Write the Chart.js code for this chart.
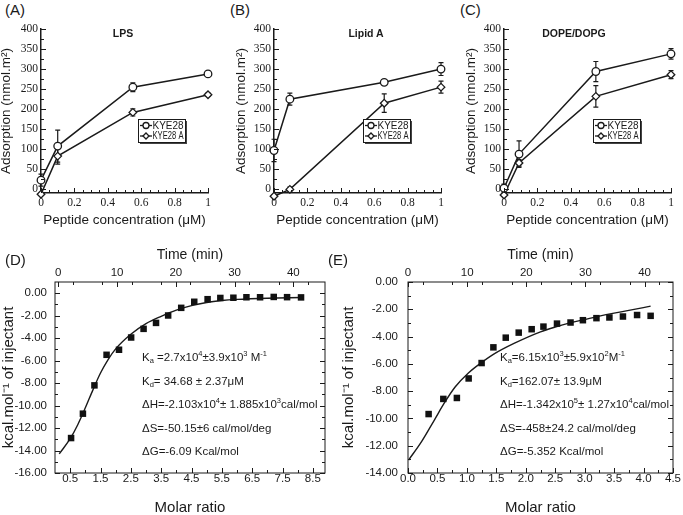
<!DOCTYPE html>
<html>
<head>
<meta charset="utf-8">
<script src="https://cdn.jsdelivr.net/npm/chart.js@4.4.0/dist/chart.umd.min.js"></script>
<style>
body { margin: 0; background: #fff; width: 683px; height: 515px; position: relative; overflow: hidden; font-family: "Liberation Sans", Arial, sans-serif; color: #1a1a1a; }
canvas { position: absolute; }
.plab { position: absolute; font-size: 15px; line-height: 15px; }
.ptitle { position: absolute; font-size: 10.5px; font-weight: bold; transform: translate(-50%, -50%); white-space: nowrap; }
.ann { position: absolute; font-size: 11.5px; line-height: 23.5px; white-space: nowrap; }
.ann sub, .ann sup { font-size: 7.5px; line-height: 0; position: relative; vertical-align: baseline; }
.ann sup { top: -5px; }
.ann sub { top: 2px; }
</style>
</head>
<body>
<canvas id="chartA" width="225" height="215" style="left:0;top:20px"></canvas>
<canvas id="chartB" width="230" height="215" style="left:225px;top:20px"></canvas>
<canvas id="chartC" width="228" height="215" style="left:455px;top:20px"></canvas>
<canvas id="chartD" width="340" height="275" style="left:0;top:240px"></canvas>
<canvas id="chartE" width="343" height="275" style="left:340px;top:240px"></canvas>

<div class="plab" style="left:5px;top:2px">(A)</div>
<div class="plab" style="left:230px;top:2px">(B)</div>
<div class="plab" style="left:460px;top:2px">(C)</div>
<div class="plab" style="left:5px;top:252px">(D)</div>
<div class="plab" style="left:328px;top:252px">(E)</div>

<div class="ptitle" style="left:123px;top:33px">LPS</div>
<div class="ptitle" style="left:366px;top:33px">Lipid A</div>
<div class="ptitle" style="left:574px;top:33px">DOPE/DOPG</div>

<div class="ann" style="left:142px;top:346px">
  <div>K<sub>a</sub> =2.7x10<sup>4</sup>±3.9x10<sup>3</sup> M<sup>-1</sup></div>
  <div>K<sub>d</sub>= 34.68 ± 2.37μM</div>
  <div>ΔH=-2.103x10<sup>4</sup>± 1.885x10<sup>3</sup>cal/mol</div>
  <div>ΔS=-50.15±6 cal/mol/deg</div>
  <div>ΔG=-6.09 Kcal/mol</div>
</div>
<div class="ann" style="left:500px;top:346px">
  <div>K<sub>a</sub>=6.15x10<sup>3</sup>±5.9x10<sup>2</sup>M<sup>-1</sup></div>
  <div>K<sub>d</sub>=162.07± 13.9μM</div>
  <div>ΔH=-1.342x10<sup>5</sup>± 1.27x10<sup>4</sup>cal/mol</div>
  <div>ΔS=-458±24.2 cal/mol/deg</div>
  <div>ΔG=-5.352 Kcal/mol</div>
</div>

<script>
// ---- (A)(B)(C) 吸着量データ ----
const concLPS = [0, 0.1, 0.55, 1];
const lpsKYE28 = [23, 108, 255, 288];
const lpsKYE28Err = [15, 40, 11, 6];
const lpsKYE28A = [-12, 83, 192, 236];
const lpsKYE28AErr = [3, 20, 9, 4];

const concLipidA = [0, 0.095, 0.66, 1];
const lipidKYE28 = [97, 225, 267, 300];
const lipidKYE28Err = [28, 15, 4, 16];
const lipidKYE28A = [-17, 0, 215, 255];
const lipidKYE28AErr = [3, 6, 23, 15];

const concDOPE = [0, 0.09, 0.55, 1];
const dopeKYE28 = [3, 88, 294, 338];
const dopeKYE28Err = [10, 33, 25, 13];
const dopeKYE28A = [-14, 66, 232, 286];
const dopeKYE28AErr = [3, 8, 27, 10];

const concTicks = [0, 0.2, 0.4, 0.6, 0.8, 1];
const adsTicks = [0, 50, 100, 150, 200, 250, 300, 350, 400];

// ---- (D)(E) ITC データ ----
const molarD = [0.53, 0.92, 1.30, 1.70, 2.11, 2.51, 2.92, 3.33, 3.73, 4.16, 4.59, 5.03, 5.45, 5.88, 6.31, 6.76, 7.21, 7.65, 8.11];
const heatD = [-12.89, -10.72, -8.20, -5.48, -5.03, -3.94, -3.17, -2.64, -1.98, -1.30, -0.76, -0.53, -0.42, -0.40, -0.36, -0.36, -0.33, -0.35, -0.37];
const fitMolarD = [0.14, 0.5, 0.75, 1.0, 1.25, 1.5, 1.75, 2.0, 2.5, 3.0, 3.5, 4.0, 4.5, 5.0, 5.5, 6.0, 7.0, 8.1];
const fitHeatD = [-14.3, -12.95, -11.7, -10.2, -8.6, -7.1, -5.9, -4.95, -3.65, -2.7, -2.05, -1.5, -1.1, -0.82, -0.65, -0.55, -0.44, -0.38];

const molarE = [0.35, 0.60, 0.83, 1.03, 1.25, 1.45, 1.66, 1.88, 2.10, 2.30, 2.53, 2.76, 2.97, 3.20, 3.42, 3.65, 3.89, 4.12];
const heatE = [-9.68, -8.57, -8.50, -7.07, -5.94, -4.79, -4.08, -3.71, -3.46, -3.27, -3.05, -2.97, -2.80, -2.65, -2.60, -2.53, -2.42, -2.48];
const fitMolarE = [0.01, 0.23, 0.45, 0.62, 0.8, 1.03, 1.25, 1.47, 1.8, 2.25, 2.5, 2.75, 3.0, 3.25, 3.5, 3.75, 4.12];
const fitHeatE = [-13.05, -11.7, -10.1, -8.85, -7.7, -6.65, -5.9, -5.25, -4.5, -3.65, -3.3, -3.0, -2.75, -2.5, -2.28, -2.08, -1.77];

const molarTicksD = [0.5, 1.5, 2.5, 3.5, 4.5, 5.5, 6.5, 7.5, 8.5];
const molarTicksE = [0, 0.5, 1, 1.5, 2, 2.5, 3, 3.5, 4, 4.5];
const timeTicks = [0, 10, 20, 30, 40];
const heatTicksD = [0, -2, -4, -6, -8, -10, -12, -14, -16];
const heatTicksE = [0, -2, -4, -6, -8, -10, -12, -14];

const ink = '#1a1a1a';
const serif = '"Liberation Serif", "Times New Roman", serif';
const sans = '"Liberation Sans", Arial, sans-serif';

function steps(from, to, step) {
    const out = [];
    for (let v = from; v <= to + 1e-9; v += step) out.push(+v.toFixed(4));
    return out;
}
function points(xs, ys) {
    return xs.map((x, i) => ({ x: x, y: ys[i] }));
}

// エラーバー（点の下に描く）
const errorBars = {
    id: 'errorBars',
    beforeDatasetsDraw(chart) {
        const ctx = chart.ctx;
        chart.data.datasets.forEach((ds, i) => {
            if (!ds.errors) return;
            const meta = chart.getDatasetMeta(i);
            const ys = chart.scales[meta.yAxisID];
            ctx.save();
            ctx.strokeStyle = ink;
            ctx.lineWidth = 1.2;
            meta.data.forEach((pt, j) => {
                const e = ds.errors[j];
                if (!e) return;
                const v = ds.data[j].y;
                const top = ys.getPixelForValue(v + e);
                const bot = ys.getPixelForValue(v - e);
                ctx.beginPath();
                ctx.moveTo(pt.x, top); ctx.lineTo(pt.x, bot);
                ctx.moveTo(pt.x - 2.5, top); ctx.lineTo(pt.x + 2.5, top);
                ctx.moveTo(pt.x - 2.5, bot); ctx.lineTo(pt.x + 2.5, bot);
                ctx.stroke();
            });
            ctx.restore();
        });
    }
};

// 内向きの目盛りと枠
const inTicks = {
    id: 'inTicks',
    afterDraw(chart, args, opts) {
        const ctx = chart.ctx;
        const a = chart.chartArea;
        ctx.save();
        ctx.strokeStyle = ink;
        ctx.lineWidth = 1;
        if (opts.frame) {
            ctx.strokeRect(a.left, a.top, a.right - a.left, a.bottom - a.top);
        }
        (opts.marks || []).forEach(m => {
            const sc = chart.scales[m.scale];
            ctx.beginPath();
            m.values.forEach(v => {
                const p = Math.round(sc.getPixelForValue(v)) + 0.5;
                m.sides.forEach(side => {
                    if (side === 'bottom') { ctx.moveTo(p, a.bottom); ctx.lineTo(p, a.bottom - m.len); }
                    if (side === 'top') { ctx.moveTo(p, a.top); ctx.lineTo(p, a.top + m.len); }
                    if (side === 'left') { ctx.moveTo(a.left, p); ctx.lineTo(a.left + m.len, p); }
                    if (side === 'right') { ctx.moveTo(a.right, p); ctx.lineTo(a.right - m.len, p); }
                });
            });
            ctx.stroke();
        });
        ctx.restore();
    }
};

// 枠付き凡例
const boxLegend = {
    id: 'boxLegend',
    afterDraw(chart, args, o) {
        if (!o.w) return;
        const ctx = chart.ctx;
        const a = chart.chartArea;
        const x = a.left + o.dx, y = a.top + o.dy;
        ctx.save();
        ctx.fillStyle = '#444';
        ctx.fillRect(x + 2, y + 2, o.w, o.h);
        ctx.fillStyle = '#fff';
        ctx.fillRect(x, y, o.w, o.h);
        ctx.strokeStyle = ink;
        ctx.lineWidth = 1;
        ctx.strokeRect(x + 0.5, y + 0.5, o.w, o.h);
        chart.data.datasets.forEach((ds, i) => {
            const ry = y + 6.5 + i * 10.5;
            ctx.strokeStyle = ink;
            ctx.lineWidth = 1.3;
            ctx.beginPath();
            ctx.moveTo(x + 2, ry); ctx.lineTo(x + 14, ry);
            ctx.stroke();
            ctx.fillStyle = '#fff';
            Chart.helpers.drawPoint(ctx, { pointStyle: ds.pointStyle, radius: 3, borderWidth: 1.2, rotation: 0 }, x + 8, ry);
            ctx.fillStyle = ink;
            ctx.font = '10px ' + sans;
            ctx.textBaseline = 'middle';
            ctx.fillText(ds.label, x + 14.5, ry + 0.5, o.w - 16);
        });
        ctx.restore();
    }
};

function makeAdsorption(id, geo, conc, s1, e1, s2, e2) {
    const lineSet = {
        borderColor: ink, borderWidth: 1.5, backgroundColor: '#fff',
        pointRadius: 3.8, pointBorderWidth: 1.3, pointBorderColor: ink,
        pointBackgroundColor: '#fff', clip: false
    };
    return new Chart(document.getElementById(id), {
        type: 'line',
        data: {
            datasets: [
                Object.assign({ label: 'KYE28', data: points(conc, s1), errors: e1, pointStyle: 'circle' }, lineSet),
                Object.assign({ label: 'KYE28 A', data: points(conc, s2), errors: e2, pointStyle: 'rectRot', pointRadius: 4 }, lineSet)
            ]
        },
        options: {
            responsive: false,
            animation: false,
            layout: { padding: { left: 0, right: geo.padRight, top: 9, bottom: 0 } },
            scales: {
                x: {
                    type: 'linear', min: 0, max: 1,
                    afterFit: s => { s.height = 42; },
                    afterBuildTicks: s => { s.ticks = concTicks.map(v => ({ value: v })); },
                    grid: { display: false, drawTicks: false },
                    border: { display: true, color: ink, width: 1.5 },
                    ticks: { color: ink, padding: 4, autoSkip: false, maxRotation: 0, font: { family: serif, size: 11.5, lineHeight: 1 }, callback: v => String(v) },
                    title: { display: true, text: 'Peptide concentration (μM)', color: ink, font: { family: sans, size: 13.5, lineHeight: 1 }, padding: { top: 0, bottom: 8 } }
                },
                y: {
                    type: 'linear', min: -9, max: 400,
                    afterFit: s => { s.width = geo.yWidth; },
                    afterBuildTicks: s => { s.ticks = adsTicks.map(v => ({ value: v })); },
                    grid: { display: false, drawTicks: false },
                    border: { display: true, color: ink, width: 1.5 },
                    ticks: { color: ink, padding: 3, autoSkip: false, font: { family: serif, size: 11.5, lineHeight: 1 } },
                    title: { display: true, text: 'Adsorption (nmol.m²)', color: ink, font: { family: sans, size: 13.5, lineHeight: 1 }, padding: { top: geo.titlePad, bottom: 0 } }
                }
            },
            plugins: {
                legend: { display: false },
                tooltip: { enabled: false },
                inTicks: {
                    frame: false,
                    marks: [
                        { scale: 'x', values: concTicks, sides: ['bottom'], len: 5 },
                        { scale: 'x', values: steps(0.05, 0.95, 0.05).filter(v => Math.abs(v * 5 - Math.round(v * 5)) > 1e-6), sides: ['bottom'], len: 3 },
                        { scale: 'y', values: adsTicks, sides: ['left'], len: 5 },
                        { scale: 'y', values: steps(25, 375, 50), sides: ['left'], len: 3 }
                    ]
                },
                boxLegend: { dx: geo.legendX, dy: 90, w: 47, h: 23 }
            }
        },
        plugins: [errorBars, inTicks, boxLegend]
    });
}

makeAdsorption('chartA', { padRight: 17, yWidth: 41, titlePad: 0, legendX: 97 }, concLPS, lpsKYE28, lpsKYE28Err, lpsKYE28A, lpsKYE28AErr);
makeAdsorption('chartB', { padRight: 14, yWidth: 49, titlePad: 10, legendX: 89 }, concLipidA, lipidKYE28, lipidKYE28Err, lipidKYE28A, lipidKYE28AErr);
makeAdsorption('chartC', { padRight: 12, yWidth: 49, titlePad: 10, legendX: 89 }, concDOPE, dopeKYE28, dopeKYE28Err, dopeKYE28A, dopeKYE28AErr);

function makeITC(id, geo, mx, hy, fx, fy) {
    return new Chart(document.getElementById(id), {
        type: 'line',
        data: {
            datasets: [
                { label: 'data', data: points(mx, hy), showLine: false, pointStyle: 'rect', pointRadius: 4.6, pointBorderWidth: 0, pointBackgroundColor: '#111', borderColor: '#111', clip: false },
                { label: 'fit', data: points(fx, fy), borderColor: ink, borderWidth: 1.4, pointRadius: 0, cubicInterpolationMode: 'monotone', fill: false }
            ]
        },
        options: {
            responsive: false,
            animation: false,
            layout: { padding: { left: 0, right: geo.padRight, top: 0, bottom: 0 } },
            scales: {
                x: {
                    type: 'linear', position: 'bottom', min: geo.xMin, max: geo.xMax,
                    afterFit: s => { s.height = 42; },
                    afterBuildTicks: s => { s.ticks = geo.xTicks.map(v => ({ value: v })); },
                    grid: { display: false, drawTicks: false },
                    border: { display: false },
                    ticks: { color: ink, padding: 0, autoSkip: false, maxRotation: 0, font: { family: sans, size: 11.5, lineHeight: 1 }, callback: v => v.toFixed(1) },
                    title: { display: true, text: 'Molar ratio', color: ink, font: { family: sans, size: 15, lineHeight: 1 }, padding: { top: 0, bottom: 0 } }
                },
                x2: {
                    type: 'linear', position: 'top', min: geo.tMin, max: geo.tMax,
                    afterFit: s => { s.height = 42; },
                    afterBuildTicks: s => { s.ticks = timeTicks.map(v => ({ value: v })); },
                    grid: { display: false, drawTicks: false },
                    border: { display: false },
                    ticks: { color: ink, padding: 3, autoSkip: false, maxRotation: 0, font: { family: sans, size: 11.5, lineHeight: 1 } },
                    title: { display: true, text: 'Time (min)', color: ink, font: { family: sans, size: 14, lineHeight: 1 }, padding: { top: 8, bottom: 0 } }
                },
                y: {
                    type: 'linear', min: geo.yMin, max: geo.yMax,
                    afterFit: s => { s.width = geo.yWidth; },
                    afterBuildTicks: s => { s.ticks = geo.yTicks.map(v => ({ value: v })); },
                    grid: { display: false, drawTicks: false },
                    border: { display: false },
                    ticks: { color: ink, padding: geo.yPad, autoSkip: false, font: { family: sans, size: 11.5, lineHeight: 1 }, callback: v => v.toFixed(2) },
                    title: { display: true, text: 'kcal.mol⁻¹ of injectant', color: ink, font: { family: sans, size: 15, lineHeight: 1 }, padding: { top: geo.titlePad, bottom: 0 } }
                }
            },
            plugins: {
                legend: { display: false },
                tooltip: { enabled: false },
                inTicks: {
                    frame: true,
                    marks: [
                        { scale: 'x', values: geo.xTicks, sides: ['bottom'], len: 5 },
                        { scale: 'x', values: geo.xMinor, sides: ['bottom'], len: 3 },
                        { scale: 'x2', values: timeTicks, sides: ['top'], len: 5 },
                        { scale: 'x2', values: steps(2.5, 42.5, 5), sides: ['top'], len: 3 },
                        { scale: 'y', values: geo.yTicks, sides: ['left', 'right'], len: 5 },
                        { scale: 'y', values: geo.yMinor, sides: ['left', 'right'], len: 3 }
                    ]
                }
            }
        },
        plugins: [inTicks]
    });
}

makeITC('chartD', {
    padRight: 15, yWidth: 55, yPad: 8, titlePad: 1.5,
    xMin: 0, xMax: 8.9, xTicks: molarTicksD, xMinor: steps(1, 8, 1),
    tMin: -0.56, tMax: 45.4,
    yMin: -16, yMax: 1.0, yTicks: heatTicksD, yMinor: steps(-15, -1, 2)
}, molarD, heatD, fitMolarD, fitHeatD);

makeITC('chartE', {
    padRight: 10, yWidth: 68, yPad: 10, titlePad: 1.5,
    xMin: 0, xMax: 4.5, xTicks: molarTicksE, xMinor: steps(0.25, 4.25, 0.5),
    tMin: 0, tMax: 44.8,
    yMin: -14, yMax: 0, yTicks: heatTicksE, yMinor: steps(-13, -1, 2)
}, molarE, heatE, fitMolarE, fitHeatE);
</script>
</body>
</html>
